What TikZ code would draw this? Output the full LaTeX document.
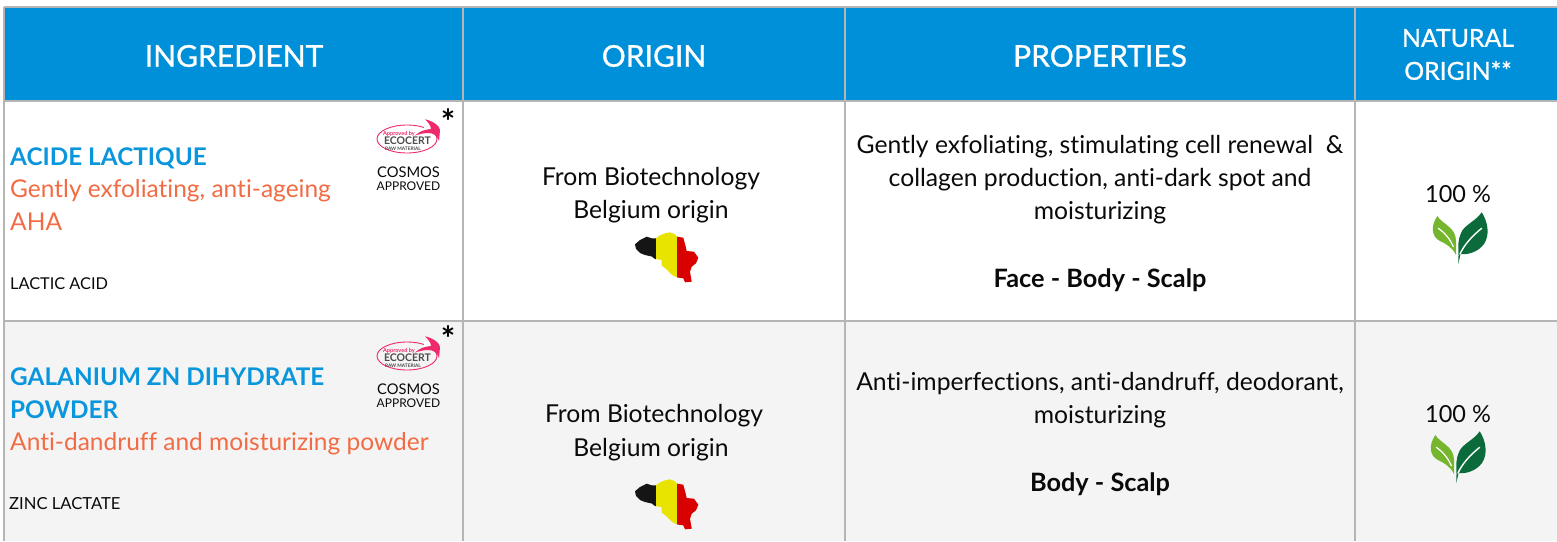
\documentclass[tikz,border=0pt]{standalone}
\usepackage{fontspec}
\setmainfont[Ligatures=NoCommon]{Lato}
\definecolor{headblue}{HTML}{0090D9}
\definecolor{gridgray}{HTML}{B5B5B5}
\definecolor{rowgray}{HTML}{F4F4F4}
\definecolor{titleblue}{HTML}{0A96DC}
\definecolor{orangetxt}{HTML}{F26B43}
\definecolor{bodytxt}{HTML}{0A0A0A}
\definecolor{pinklogo}{HTML}{EE2A6B}
\definecolor{leaflight}{HTML}{76B62F}
\definecolor{leafdark}{HTML}{0B6B3A}
\definecolor{flagyellow}{HTML}{E8E400}
\definecolor{flagred}{HTML}{D90000}
\definecolor{flagblack}{HTML}{151515}
\tikzset{
  x=1pt,y=-1pt,
  gridline/.style={draw=gridgray,line width=2pt},
  headtxt/.style={text=white,font=\fontsize{30}{33}\selectfont\addfontfeature{FakeBold=0.9},align=center,inner sep=0pt},
  headsmall/.style={text=white,font=\fontsize{24.8}{33}\selectfont\addfontfeature{FakeBold=0.9},align=center,inner sep=0pt},
  bodytext/.style={text=bodytxt,font=\fontsize{24.7}{33.3}\selectfont,align=center,inner sep=0pt},
  pctext/.style={text=bodytxt,font=\fontsize{23.5}{33}\selectfont,inner sep=0pt},
  boldtext/.style={text=bodytxt,font=\fontsize{25.3}{33}\selectfont\bfseries,inner sep=0pt},
  nametxt/.style={text=titleblue,font=\fontsize{24.3}{33}\selectfont\bfseries,anchor=base west,inner sep=0pt,align=left},
  descrtxt/.style={text=orangetxt,font=\fontsize{24.5}{33}\selectfont,anchor=base west,inner sep=0pt,align=left},
  inci/.style={text=bodytxt,font=\fontsize{16.3}{18}\selectfont,anchor=base west,inner sep=0pt},
  cosmos/.style={text=bodytxt,inner sep=0pt},
  starmark/.style={text=black,font=\fontsize{34}{34}\selectfont\bfseries,inner sep=0pt},
  flagpic/.pic={
    \begin{scope}
      \clip (15,19.3)--(20,15)--(26.7,11.7)--(31.7,13.3)--(36,13.3)--(39.3,10.7)--(45,8.3)--(50,7.3)--(55,9.3)--(57.3,11.7)--(63.3,12.7)--(65.7,21.7)--(66.7,26)--(74,26.7)--(78.3,32.7)--(76,38.3)--(71.7,41.7)--(70,46.7)--(71.7,56.7)--(65,57.3)--(63.3,53.3)--(57.3,52.5)--(52,50)--(46,44)--(41.7,40.5)--(41.7,35)--(35,34)--(31.7,31.5)--(25,30)--(20,28)--(16,24)--cycle;
      \fill[flagblack] (10,0) rectangle (36,65);
      \fill[flagyellow] (36,0) rectangle (57.3,65);
      \fill[flagred] (57.3,0) rectangle (85,65);
    \end{scope}
  },
  leafpic/.pic={
    \fill[leaflight] (17.3,11) .. controls (22,19) and (36,22) .. (36,36) -- (36,50) .. controls (32,42) and (26,39) .. (20,36) .. controls (12,32) and (10,22) .. (17.3,11) -- cycle;
    \fill[leafdark] (61.7,7.3) .. controls (56,16) and (44,20) .. (41,28) .. controls (38,34) and (38,42) .. (38.5,50) -- (38.3,59.3) -- (40.5,49) .. controls (48,50) and (58,47) .. (64,39) .. controls (70,30) and (68,17) .. (61.7,7.3) -- cycle;
    \draw[white,line width=1.2pt,line cap=round] (18.3,23.3) .. controls (25,28) and (30,34) .. (33.3,41.7);
    \draw[white,line width=1.4pt,line cap=round] (40,49) .. controls (44,40) and (52,31) .. (61.7,23.3);
  },
  ecologo/.pic={
    \draw[pinklogo,line width=.9pt] (67,39) ellipse [x radius=30,y radius=14];
    \fill[white] (84,24) rectangle (100,31);
    \fill[pinklogo] (85,19.3) .. controls (93,21) and (100,26) .. (100,30) -- (99,41) .. controls (97,35) and (93,33) .. (88,33) .. controls (84,33) and (80,34) .. (75,35.5) .. controls (80,31) and (85,29.5) .. (91,29) .. controls (91,26) and (88,22) .. (85,19.3) -- cycle;
    \node[text=pinklogo,font=\fontsize{5.6}{6}\selectfont\bfseries,inner sep=0pt] (#1a) at (59,33.5) {Approved by};
    \node[text=black!70,font=\fontsize{10.5}{11}\selectfont\bfseries,inner sep=0pt] (#1b) at (67.5,41) {ECOCERT};
    \node[text=black!70,font=\fontsize{4.8}{5}\selectfont\bfseries,inner sep=0pt] (#1c) at (63,48.5) {RAW MATERIAL};
  }
}
\begin{document}
\begin{tikzpicture}
\useasboundingbox (0,0) rectangle (1557,541);
\fill[white] (0,0) rectangle (1557,541);
% fills
\fill[headblue] (4,7) rectangle (1557,101);
\fill[rowgray] (4,321) rectangle (1557,541);
% grid
\draw[gridline] (4,7) -- (1557,7);
\draw[gridline] (4,101) -- (1557,101);
\draw[gridline] (4,321) -- (1557,321);
\draw[gridline] (4,7) -- (4,541);
\draw[gridline] (463,7) -- (463,541);
\draw[gridline] (845,7) -- (845,541);
\draw[gridline] (1355,7) -- (1355,541);
% header
\node[headtxt] (hingredient) at (234,56) {INGREDIENT};
\node[headtxt] (horigin) at (654,56) {ORIGIN};
\node[headtxt] (hproperties) at (1100,56) {PROPERTIES};
\node[headsmall] (hnatural) at (1458,54.5) {NATURAL\\ORIGIN**};
% row 1
\node[nametxt] (name1) at (10,165) {ACIDE LACTIQUE};
\node[descrtxt] (descr1) at (10,197) {Gently exfoliating, anti-ageing};
\node[descrtxt] (aha1) at (10,230) {AHA};
\node[inci] (inci1) at (10,289) {LACTIC ACID};
\pic at (340,100) {ecologo=r};
\node[cosmos,font=\fontsize{14.7}{16}\selectfont] (cos1) at (408.5,172) {COSMOS};
\node[cosmos,font=\fontsize{12}{13}\selectfont] (app1) at (408.5,186) {APPROVED};
\node[starmark] (star1) at (448,122) {*};
\node[bodytext] (orig1) at (651,195.5) {From Biotechnology\\Belgium origin};
\pic at (620,225) {flagpic};
\node[bodytext] (prop1) at (1100,179.5) {Gently exfoliating, stimulating cell renewal~~\&\\collagen production, anti-dark spot and\\moisturizing};
\node[boldtext] (use1) at (1100,280) {Face - Body - Scalp};
\node[pctext] (nat1) at (1458,194) {100 \%};
\pic at (1420,205) {leafpic};
% row 2
\node[nametxt] (name2) at (10,385) {GALANIUM ZN DIHYDRATE};
\node[nametxt] (name2b) at (10,418) {POWDER};
\node[descrtxt] (descr2) at (10,450) {Anti-dandruff and moisturizing powder};
\node[inci,font=\fontsize{16.6}{18}\selectfont] (inci2) at (9,509) {ZINC LACTATE};
\pic at (340,317) {ecologo=s};
\node[cosmos,font=\fontsize{14.7}{16}\selectfont] (cos2) at (408.5,389) {COSMOS};
\node[cosmos,font=\fontsize{12}{13}\selectfont] (app2) at (408.5,403) {APPROVED};
\node[starmark] (star2) at (448,339) {*};
\node[bodytext,anchor=base] (orig2) at (654,422) {From Biotechnology};
\node[bodytext,anchor=base] (orig2b) at (651,456) {Belgium origin};
\pic at (620,472) {flagpic};
\node[bodytext] (prop2) at (1100,400) {Anti-imperfections, anti-dandruff, deodorant,\\moisturizing};
\node[boldtext] (use2) at (1100,484) {Body - Scalp};
\node[pctext] (nat2) at (1458,414) {100 \%};
\pic at (1418,424) {leafpic};
\end{tikzpicture}
\end{document}
